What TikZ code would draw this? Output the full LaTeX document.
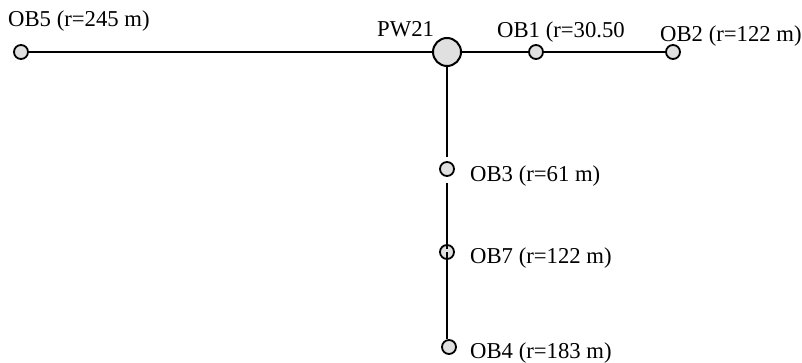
\documentclass[tikz,border=0pt]{standalone}
\usepackage{fontspec}
\setmainfont{Liberation Serif}
\begin{document}
\begin{tikzpicture}[x=1pt,y=-1pt,
  well/.style={circle,draw=black,line width=2pt,fill=black!12,minimum size=28pt,inner sep=0pt},
  obs/.style={circle,draw=black,line width=1.8pt,fill=black!12,minimum size=14pt,inner sep=0pt},
  pipe/.style={draw=black,line width=2pt},
  lbl/.style={anchor=base west,inner sep=0pt,font=\fontsize{22.7}{27}\selectfont}]
\useasboundingbox (0,0) rectangle (802,363);
\node[well] (pw) at (447,52) {};
\node[obs] (ob5) at (21,52) {};
\node[obs] (ob1) at (536,52) {};
\node[obs] (ob2) at (673,52) {};
\node[obs] (ob3) at (447,169) {};
\node[obs] (ob7) at (447,252) {};
\node[obs] (ob4) at (449,347) {};
\draw[pipe] (ob5) -- (pw);
\draw[pipe] (pw) -- (ob1);
\draw[pipe] (ob1) -- (ob2);
\draw[pipe,shorten >=4pt] (pw) -- (ob3);
\draw[pipe,shorten <=6pt,shorten >=3pt] (ob3.south) -- (ob7.center);
\draw[pipe] (ob7.center) -- (ob4.north -| ob7);
\node[lbl] (l5) at (8,27) {OB5 (r=245 m)};
\node[lbl] (lpw) at (377,37) {PW21};
\node[lbl] (l1) at (497,38) {OB1 (r=30.50};
\node[lbl] (l2) at (660,42) {OB2 (r=122 m)};
\node[lbl] (l3) at (470,182) {OB3 (r=61 m)};
\node[lbl] (l7) at (470,263) {OB7 (r=122 m)};
\node[lbl] (l4) at (470,358) {OB4 (r=183 m)};
\end{tikzpicture}
\end{document}
